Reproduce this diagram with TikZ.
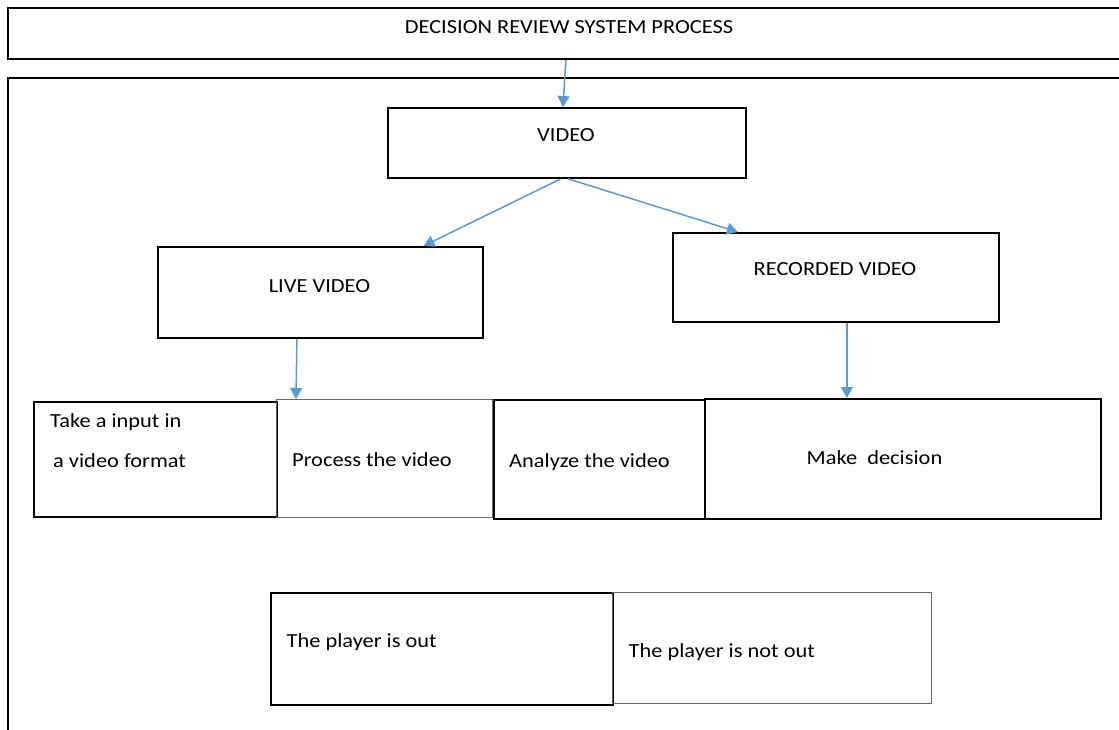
\documentclass[tikz,border=0pt]{standalone}
\usepackage{fontspec}
\setmainfont{Carlito}[FakeStretch=1.12]
\usetikzlibrary{arrows.meta}
\definecolor{arrowblue}{RGB}{91,155,213}
\tikzset{
  box/.style={shape=rectangle,draw=black,line width=1.8pt,anchor=north west,inner sep=0pt},
  thinbox/.style={box,draw=black!60,line width=1pt},
  txt/.style={anchor=base,inner sep=0pt},
  ltxt/.style={anchor=base west,inner sep=0pt},
  arr/.style={draw=arrowblue,line width=1.5pt,-{Triangle[length=11pt,width=12pt]}}
}
\begin{document}
\begin{tikzpicture}[x=1pt,y=-1pt,font=\fontsize{20}{24}\selectfont]
\useasboundingbox (0,0) rectangle (1119,729);
\fill[white] (0,0) rectangle (1119,729);

\node[box,minimum width=1125,minimum height=51] (title) at (7,7) {};
\node[box,minimum width=1125,minimum height=670] (frame) at (7,77) {};
\node[txt] (title-txt) at (569,33) {DECISION REVIEW SYSTEM PROCESS};

\node[box,minimum width=358,minimum height=70] (video) at (387,107) {};
\node[txt] (video-txt) at (566,141.5) {VIDEO};
\node[box,minimum width=325,minimum height=91] (live) at (157,246) {};
\node[txt] (live-txt) at (319.5,292) {LIVE VIDEO};
\node[box,minimum width=326,minimum height=89] (rec) at (672,232) {};
\node[txt] (rec-txt) at (835,275.5) {RECORDED VIDEO};

\node[box,minimum width=243,minimum height=115] (input) at (33,401) {};
\node[ltxt] (input-txt1) at (50,427) {Take a input in};
\node[ltxt] (input-txt2) at (53,467) {a video format};
\node[thinbox,minimum width=216,minimum height=118] (process) at (276,399) {};
\node[ltxt] (process-txt) at (292,466) {Process the video};
\node[box,minimum width=211,minimum height=119] (analyze) at (493,399) {};
\node[ltxt] (analyze-txt) at (509,467) {Analyze the video};
\node[box,minimum width=396,minimum height=120] (decide) at (704,398) {};
\node[ltxt] (decide-txt) at (806.5,464) {Make\ \ decision};

\node[box,minimum width=342,minimum height=112] (out) at (270,592) {};
\node[ltxt] (out-txt) at (286.5,647) {The player is out};
\node[thinbox,minimum width=319,minimum height=111] (notout) at (612,592) {};
\node[ltxt] (notout-txt) at (628.5,657) {The player is not out};

\draw[arr] ([xshift=-4.5]title.south) -- ([xshift=-4]video.north);
\draw[arr] ([xshift=-6]video.south) -- ([xshift=103]live.north);
\draw[arr] ([xshift=1]video.south) -- ([xshift=-98]rec.north);
\draw[arr] ([xshift=-23.5]live.south) -- ([xshift=20]process.north west);
\draw[arr] ([xshift=11]rec.south) -- ([xshift=11]rec.south |- decide.north);
\end{tikzpicture}
\end{document}
